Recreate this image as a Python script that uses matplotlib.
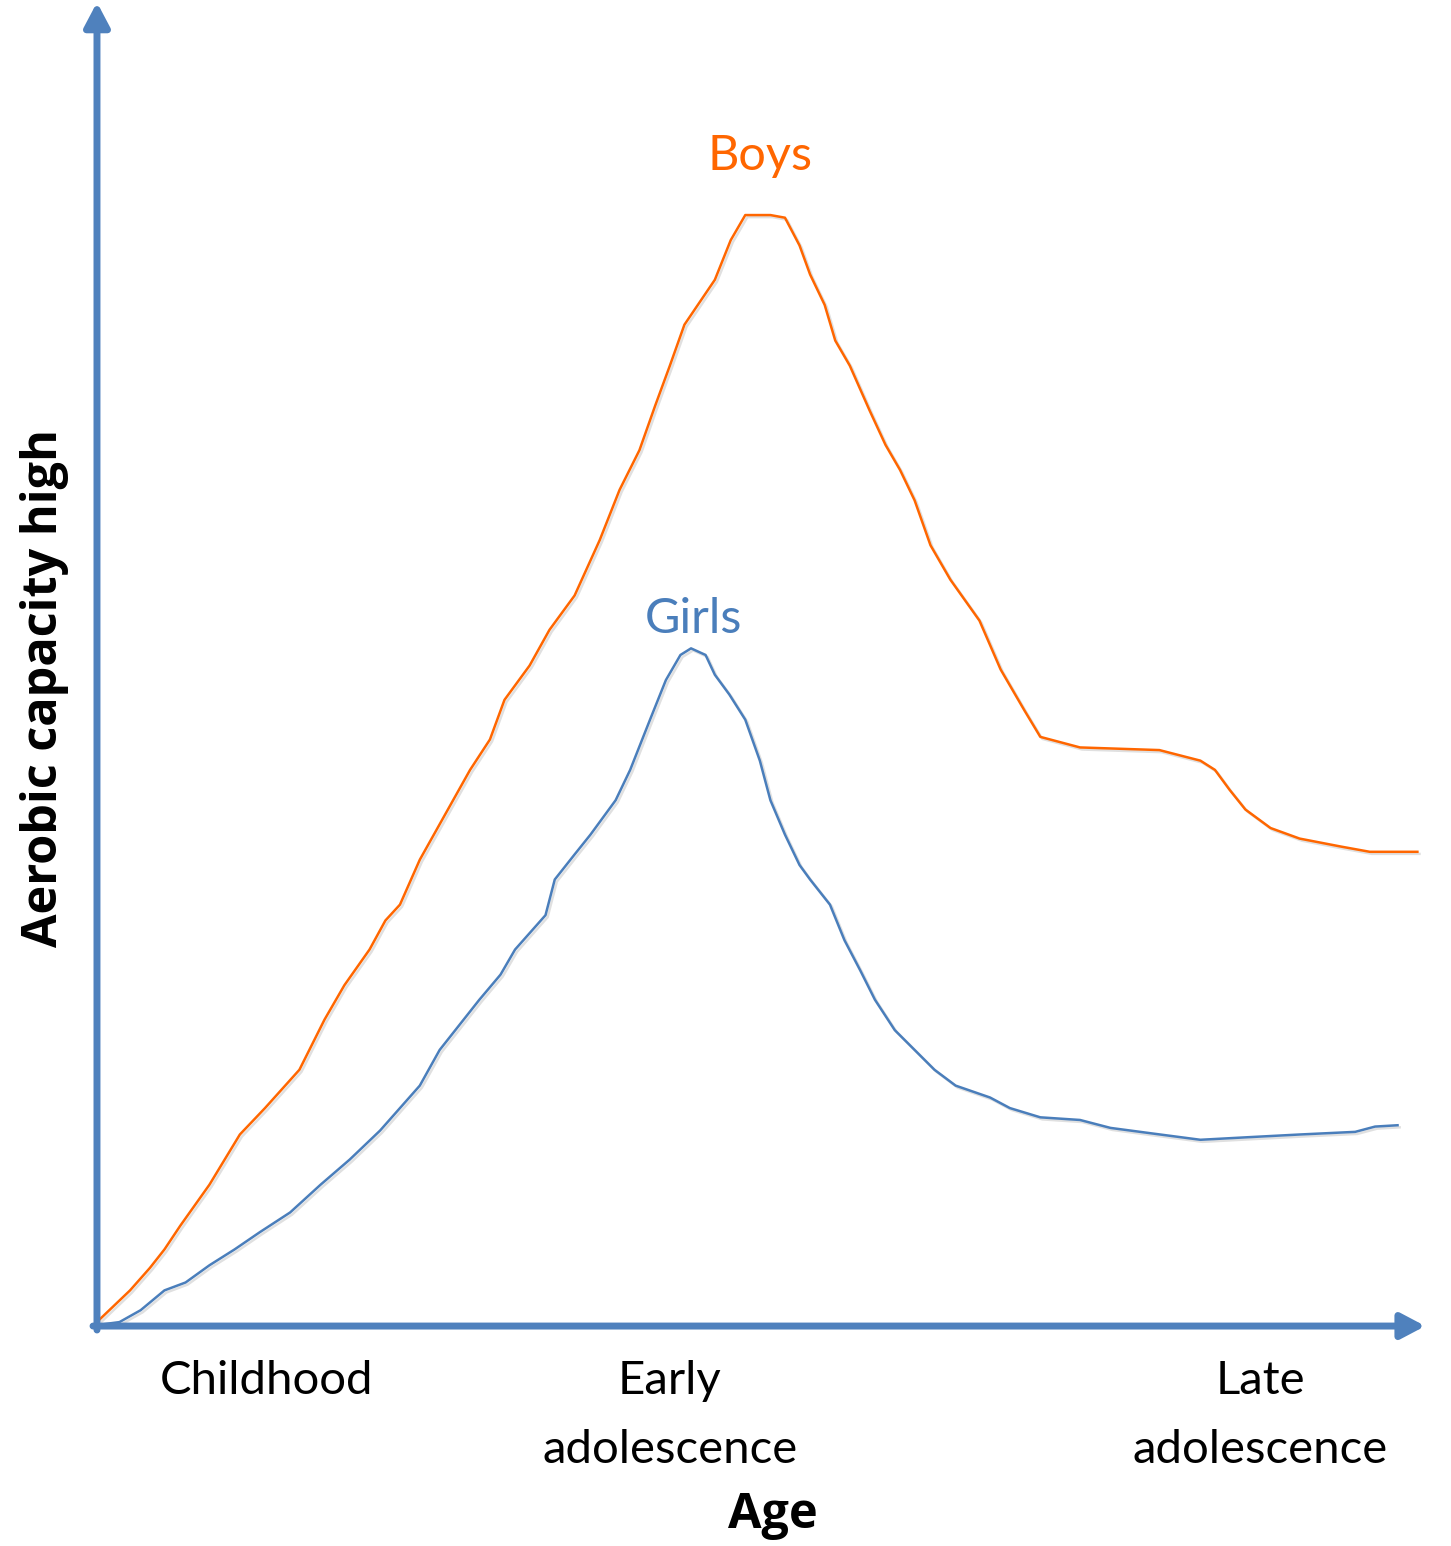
import matplotlib
matplotlib.use('Agg')
import matplotlib.pyplot as plt
import matplotlib.patheffects as pe

plt.rcParams['font.family'] = ['Lato', 'DejaVu Sans']

# curve values (age 0-100, capacity 0-100)
boys_x = [0.2, 2.5, 4.0, 5.1, 6.3, 8.5, 10.8, 12.7, 15.3, 17.2, 18.7, 20.6, 21.8, 22.9,
          24.4, 26.3, 28.2, 29.7, 30.8, 32.7, 34.2, 36.1, 38.0, 39.5, 41.0, 42.2, 43.3,
          44.4, 46.7, 47.9, 49.0, 50.9, 52.0, 53.1, 53.9, 55.0, 55.8, 56.9, 58.4, 59.6,
          60.7, 61.8, 63.0, 64.5, 66.7, 68.3, 70.1, 71.3, 74.3, 80.3, 83.4, 84.5, 85.6,
          86.8, 88.7, 90.9, 94.0, 96.2, 99.8]
boys_y = [0.5, 2.7, 4.4, 5.8, 7.6, 10.7, 14.5, 16.5, 19.4, 23.2, 25.8, 28.5, 30.7, 31.9,
          35.3, 38.7, 42.1, 44.4, 47.4, 50.0, 52.7, 55.3, 59.5, 63.3, 66.3, 69.7, 72.7,
          75.8, 79.2, 82.2, 84.1, 84.1, 83.9, 81.8, 79.6, 77.3, 74.6, 72.7, 69.3, 66.7,
          64.8, 62.5, 59.1, 56.5, 53.4, 49.7, 46.6, 44.6, 43.8, 43.6, 42.8, 42.1, 40.6,
          39.1, 37.7, 36.9, 36.3, 35.9, 35.9]

girls_x = [0.2, 1.7, 3.3, 5.1, 6.7, 8.5, 10.4, 12.3, 14.6, 16.9, 19.1, 21.4, 22.9, 24.4,
           25.9, 27.4, 28.9, 30.5, 31.6, 33.9, 34.6, 36.1, 37.3, 39.2, 40.3, 41.8, 43.0,
           44.1, 44.9, 46.0, 46.7, 47.8, 49.0, 50.1, 50.9, 52.0, 53.1, 53.9, 55.4, 56.5,
           57.7, 58.8, 60.3, 61.8, 63.3, 64.9, 67.5, 69.0, 71.3, 74.3, 76.6, 79.6, 83.4,
           87.1, 90.9, 95.1, 96.6, 98.3]
girls_y = [0.1, 0.3, 1.2, 2.7, 3.3, 4.6, 5.8, 7.1, 8.6, 10.7, 12.6, 14.8, 16.5, 18.2,
           20.9, 22.8, 24.7, 26.6, 28.5, 31.1, 33.8, 35.7, 37.2, 39.8, 42.1, 45.9, 48.9,
           50.8, 51.3, 50.8, 49.3, 47.8, 45.9, 42.8, 39.8, 37.2, 34.9, 33.8, 31.9, 29.2,
           26.9, 24.7, 22.4, 20.9, 19.4, 18.2, 17.3, 16.5, 15.8, 15.6, 15.0, 14.6, 14.1,
           14.3, 14.5, 14.7, 15.1, 15.2]

stage_labels = ['Childhood', 'Early\nadolescence', 'Late\nadolescence']
stage_x = [12.8, 43.3, 87.9]

orange = '#FF6600'
blue = '#4A7EBB'
axis_blue = '#4F81BD'
bold_font = ['Open Sans', 'DejaVu Sans']

fig = plt.figure(figsize=(14.51, 15.46), dpi=100)
ax = fig.add_axes([0, 0, 1, 1])
ax.set_xlim(-7.33, 102.34)
ax.set_ylim(-16.65, 100.38)
ax.axis('off')

# axes drawn as arrows
head = '-|>,head_width=0.38,head_length=0.72'
shadow = [pe.SimpleLineShadow(offset=(1.5, -1.5), alpha=0.12), pe.Normal()]
ax.annotate('', xy=(0, 100.2), xytext=(0, -0.3),
            arrowprops=dict(arrowstyle=head, lw=5, color=axis_blue,
                            mutation_scale=20, shrinkA=0, shrinkB=0))
ax.annotate('', xy=(100.4, 0), xytext=(-0.3, 0),
            arrowprops=dict(arrowstyle=head, lw=5, color=axis_blue,
                            mutation_scale=20, shrinkA=0, shrinkB=0))

ax.plot(boys_x, boys_y, color=orange, lw=1.8, solid_joinstyle='round', path_effects=shadow)
ax.plot(girls_x, girls_y, color=blue, lw=1.8, solid_joinstyle='round', path_effects=shadow)

ax.text(50.1, 87.5, 'Boys', color=orange, fontsize=35, ha='center', va='baseline')
ax.text(45.05, 52.5, 'Girls', color=blue, fontsize=35, ha='center', va='baseline')

for lbl, sx in zip(stage_labels, stage_x):
    for i, line in enumerate(lbl.split('\n')):
        ax.text(sx, -5.15 - 5.22 * i, line, fontsize=34, ha='center', va='baseline')

ax.text(51.1, -15.29, 'Age', fontsize=35, fontweight='bold', family=bold_font,
        ha='center', va='baseline')
ax.text(-3.93, 48.3, 'Aerobic capacity high', fontsize=35, fontweight='bold',
        family=bold_font, rotation=90, ha='center', va='center')

fig.savefig('out.png', dpi=100)
